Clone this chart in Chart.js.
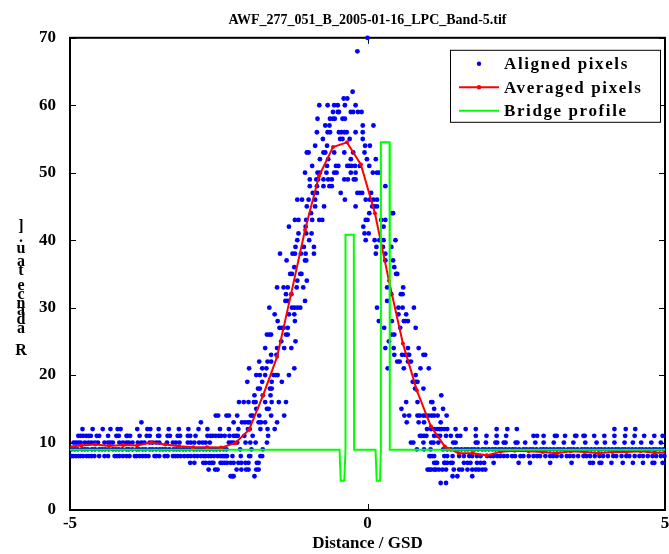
<!DOCTYPE html>
<html>
<head>
<meta charset="utf-8">
<script src="https://cdn.jsdelivr.net/npm/chart.js@4.4.0/dist/chart.umd.min.js"></script>
<style>
html, body { margin: 0; padding: 0; background: #fff; }
</style>
</head>
<body>
<canvas id="grafico" width="669" height="554"></canvas>
<script>
// Pixeles alineados, una lista de distancias por nivel de radiancia
const row4 = [1.23, 1.32];
const row5 = [-2.30, -2.27, -2.25, -1.90, 1.43, 1.51, 1.76];
const row6 = [-2.67, -2.56, -2.52, -2.20, -2.12, -2.04, -2.00, -1.87, -1.83,
    1.01, 1.04, 1.07, 1.12, 1.15, 1.20, 1.26, 1.32, 1.45, 1.54, 1.59, 1.68, 1.76, 1.82, 1.87, 1.93, 1.98];
const row7 = [-2.98, -2.91, -2.76, -2.72, -2.66, -2.62, -2.59, -2.47, -2.44, -2.40, -2.36, -2.30, -2.25, -2.17, -2.12, -2.05, -2.00, -1.86, -1.83,
    1.12, 1.15, 1.17, 1.29, 1.30, 1.34, 1.40, 1.43, 1.62, 1.68, 1.73, 1.84, 1.90, 1.96, 2.12, 2.54, 2.73, 3.07, 3.43, 3.74, 3.79, 3.90, 3.93, 4.10, 4.29, 4.46, 4.63, 4.79, 4.82, 4.96];
const row8 = [-4.97, -4.94, -4.90, -4.86, -4.82, -4.78, -4.72, -4.68, -4.64, -4.59, -4.51, -4.42, -4.36, -4.25, -4.21, -4.17, -4.11, -4.05, -4.00, -3.91,
    -3.88, -3.83, -3.78, -3.73, -3.68, -3.58, -3.55, -3.50, -3.41, -3.36, -3.27, -3.23, -3.19, -3.14, -3.08, -3.02, -2.97, -2.91, -2.86, -2.80,
    -2.75, -2.72, -2.67, -2.63, -2.58, -2.52, -2.47, -2.44, -2.41, -2.38, -2.36, -2.27, -2.13, -1.99, -1.97, -1.80, -1.77,
    1.04, 1.06, 1.09, 1.12, 1.29, 1.34, 1.43, 1.54, 1.62, 1.71, 1.76, 1.84, 1.90, 2.01, 2.07, 2.12, 2.18, 2.23, 2.29, 2.35, 2.43, 2.48, 2.57,
    2.62, 2.71, 2.79, 2.85, 2.90, 2.99, 3.07, 3.12, 3.18, 3.26, 3.35, 3.40, 3.46, 3.54, 3.63, 3.68, 3.74, 3.82, 3.90, 3.96, 4.04, 4.13, 4.18,
    4.27, 4.35, 4.40, 4.49, 4.57, 4.63, 4.71, 4.79, 4.85, 4.93, 4.99];
const row9 = [-4.97, -4.92, -4.87, -4.80, -4.75, -4.70, -4.63, -4.58, -4.51, -4.46, -4.41, -4.35, -4.28, -4.23, -4.18, -4.12, -4.05, -4.01, -3.95, -3.88,
    -3.84, -3.78, -3.73, -3.66, -3.61, -3.55, -3.49, -3.44, -3.39, -3.33, -3.26, -3.21, -3.16, -3.10, -3.05, -2.99, -2.92, -2.87, -2.82, -2.76,
    -2.71, -2.65, -2.59, -2.54, -2.48, -2.42, -2.37, -2.14, -1.95, -1.76,
    0.83, 0.95, 1.06, 1.27, 1.34, 1.40, 1.47, 1.52, 1.58, 1.64, 1.69, 1.75, 1.80, 1.86, 1.93, 1.98, 2.04, 2.10, 2.15, 2.21, 2.26, 2.32, 2.38,
    2.44, 2.49, 2.55, 2.62, 2.67, 2.73, 2.78, 2.84, 2.91, 2.96, 3.01, 3.07, 3.13, 3.19, 3.24, 3.30, 3.37, 3.42, 3.47, 3.53, 3.60, 3.65, 3.70,
    3.76, 3.82, 3.88, 3.93, 3.99, 4.05, 4.11, 4.17, 4.22, 4.28, 4.33, 4.39, 4.45, 4.51, 4.57, 4.62, 4.68, 4.74, 4.80, 4.85, 4.91, 4.97];
const row10 = [-4.94, -4.90, -4.86, -4.82, -4.75, -4.69, -4.64, -4.58, -4.53, -4.42, -4.36, -4.32, -4.28, -4.17, -4.11, -4.05, -4.01, -3.95, -3.86,
    -3.80, -3.75, -3.66, -3.61, -3.55, -3.50, -3.37, -3.27, -3.22, -3.16, -3.02, -2.97, -2.91, -2.83, -2.77, -2.72, -2.65, -2.33, -2.29, -2.25,
    -2.19, -2.05, -1.97, -1.88, -1.69,
    0.73, 0.77, 0.94, 1.07, 1.11, 1.19, 1.44, 1.48, 1.82, 1.85, 1.99, 2.15, 2.18, 2.29, 2.32, 2.49, 2.52, 2.65, 2.82, 2.96, 3.13, 3.30, 3.46,
    3.66, 3.85, 3.99, 4.15, 4.32, 4.46, 4.60, 4.77, 4.93];
const row11 = [-4.86, -4.82, -4.78, -4.73, -4.69, -4.65, -4.55, -4.51, -4.36, -4.22, -4.18, -4.05, -4.03, -3.99, -3.83, -3.71, -3.66, -3.52, -3.50,
    -3.36, -3.32, -3.19, -3.15, -3.02, -2.98, -2.89, -2.69, -2.64, -2.60, -2.55, -2.50, -2.46, -2.40, -2.32, -2.25, -2.21, -2.18, -2.07, -1.93, -1.67,
    0.88, 0.91, 0.95, 0.99, 1.12, 1.18, 1.22, 1.32, 1.40, 1.51, 1.56, 1.82, 2.00, 2.17, 2.33, 2.79, 2.85, 2.96, 3.15, 3.18, 3.32, 3.49, 3.51,
    3.63, 3.65, 3.81, 3.98, 4.15, 4.33, 4.49, 4.65, 4.82, 4.96];
const row12 = [-4.79, -4.62, -4.45, -4.32, -4.20, -4.15, -3.87, -3.70, -3.65, -3.51, -3.34, -3.17, -3.01, -2.84, -2.69, -2.48, -2.33, -2.17, -2.01,
    -1.98, -1.80, -1.68, -1.56,
    1.00, 1.07, 1.12, 1.17, 1.21, 1.24, 1.29, 1.34, 1.48, 1.65, 1.82, 2.17, 2.35, 2.51, 4.15, 4.34, 4.50];
const row13 = [-3.80, -2.80, -2.25, -2.11, -2.06, -2.01, -1.98, -1.83, -1.79, -1.72, -1.52, 0.66, 0.86, 0.95, 1.23];

// Niveles superiores (pico), cada lista va con su nivel
const upperLevels = [14, 15, 16, 17, 18, 19, 20, 21, 22, 23, 24, 25, 26, 27, 28, 29, 30, 31, 32, 33, 34, 35, 36, 37, 38, 39,
    40, 41, 42, 43, 44, 45, 46, 47, 48, 49, 50, 51, 52, 53, 54, 55, 56, 57, 58, 59, 60, 61, 62, 68, 70];
const upperX = [
    [-2.55, -2.51, -2.37, -2.33, -2.19, -1.96, -1.93, -1.82, -1.62, -1.40, 0.62, 0.70, 0.84, 0.88, 0.94, 0.98, 1.03, 1.08, 1.12, 1.18, 1.33],
    [-1.87, -1.69, -1.66, 0.57, 1.12, 1.27],
    [-2.16, -2.08, -2.00, -1.91, -1.88, -1.72, -1.61, -1.49, -1.37, 0.65, 0.84, 1.07, 1.09],
    [-1.90, -1.76, -1.63, 1.24],
    [-1.84, -1.81, -1.64, -1.61, 0.80, 0.94],
    [-2.02, -1.77, -1.61, -1.44, 0.76, 0.81, 0.84],
    [-1.87, -1.81, -1.72, -1.58, -1.54, -1.51, -1.32, 0.81],
    [-1.99, -1.77, -1.70, -1.23, 0.34, 0.61, 0.89, 1.03],
    [-1.82, -1.68, -1.62, 0.50, 0.54, 0.68, 0.73],
    [-1.62, -1.53, 0.45, 0.58, 0.63, 0.68, 0.70, 0.94, 0.97],
    [-1.72, -1.52, -1.40, -1.28, 0.30, 0.44, 0.68, 0.86],
    [-1.45, -1.21, 0.36],
    [-1.69, -1.65, -1.62, -1.37, -1.34, 0.41, 0.45],
    [-1.48, -1.44, -1.41, -1.34, 0.28, 0.55, 0.81],
    [-1.51, -1.22, 0.19, 0.41, 0.61, 0.64, 0.68],
    [-1.56, -1.32, -1.23, 0.52, 0.65],
    [-1.65, -1.27, -1.23, -1.18, -1.13, 0.16, 0.52, 0.59, 0.78],
    [-1.38, -1.34, -1.05, 0.33],
    [-1.37, -1.28, 0.40, 0.56, 0.59],
    [-1.52, -1.41, -1.34, -1.19, -1.08, 0.33, 0.60],
    [-1.18, -1.02],
    [-1.30, -1.27, -1.13, -1.11, 0.48, 0.50],
    [-1.23, 0.45],
    [-1.36, -1.05, -1.03, 0.30, 0.43],
    [-1.47, -1.26, -1.22, -1.12, -1.04, -0.90, 0.14, 0.30],
    [-1.21, -1.07, -0.90, 0.15, 0.26, 0.40],
    [-1.18, -0.98, -0.03, 0.12, 0.20, 0.27, 0.47],
    [-1.16, -1.03, -0.94, -0.05, 0.02],
    [-1.32, -1.04, -0.07, 0.27],
    [-1.22, -1.16, -1.03, -0.93, -0.81, -0.76, -0.03, 0.00, 0.23, 0.30],
    [-0.95, 0.03, 0.41, 0.43],
    [-1.02, -0.88, -0.73, -0.20, 0.08, 0.12, 0.16],
    [-1.18, -1.10, -0.99, -0.88, -0.38, -0.03, 0.04, 0.10, 0.16],
    [-0.92, -0.85, -0.45, -0.17, -0.13, -0.09, 0.06],
    [-0.97, -0.85, -0.74, -0.64, -0.60, 0.30],
    [-0.97, -0.86, -0.83, -0.74, -0.66, -0.60, -0.39, -0.33, -0.23, -0.20],
    [-1.05, -0.84, -0.80, -0.69, -0.56, -0.52, -0.28, -0.20, 0.09, 0.16, 0.20],
    [-0.93, -0.68, -0.53, -0.49, -0.34, -0.31, -0.27, -0.21, -0.13, 0.03],
    [-0.80, -0.66, -0.28, -0.01, 0.14],
    [-1.02, -0.99, -0.74, -0.71, -0.56, -0.39, -0.24, -0.05],
    [-0.88, -0.68, -0.04, 0.04],
    [-0.75, -0.46, -0.42, -0.30, -0.08],
    [-0.85, -0.67, -0.63, -0.48, -0.44, -0.39, -0.35, -0.20, -0.08],
    [-0.71, -0.64, -0.08, 0.10],
    [-0.84, -0.63, -0.58, -0.55, -0.42, -0.38],
    [-0.58, -0.50, -0.48, -0.28, -0.24, -0.16, -0.10],
    [-0.81, -0.67, -0.56, -0.50, -0.38, -0.20],
    [-0.40, -0.34],
    [-0.25],
    [-0.17],
    [0.00]
];

// Pixeles promediados
const avgX = [-5.045, -4.81, -4.575, -4.34, -4.105, -3.87, -3.635, -3.40, -3.165, -2.93, -2.695, -2.46, -2.225, -1.99, -1.755, -1.52, -1.285,
    -1.05, -0.815, -0.58, -0.345, -0.11, 0.125, 0.36, 0.595, 0.83, 1.065, 1.30, 1.535, 1.77, 2.005, 2.24, 2.475, 2.71, 2.945, 3.18, 3.415,
    3.65, 3.885, 4.12, 4.355, 4.59, 4.825, 5.06];
const avgY = [9.4, 9.55, 9.7, 9.5, 9.65, 9.55, 10.0, 9.7, 9.45, 9.3, 9.3, 9.25, 9.9, 11.9, 17.0, 22.7, 32.0,
    41.5, 49.5, 53.8, 54.5, 51.2, 44.0, 34.0, 24.7, 17.7, 12.4, 9.4, 8.4, 8.4, 8.1, 8.65, 8.8, 8.7, 8.6, 8.4, 8.7,
    8.6, 8.4, 8.6, 8.6, 8.7, 8.5, 8.5];

// Perfil del puente
const bridgeX = [-5, -0.47, -0.45, -0.39, -0.37, -0.37, -0.23, -0.225, 0.135, 0.155, 0.21, 0.225, 0.225, 0.37, 0.375, 5];
const bridgeY = [8.93, 8.93, 4.35, 4.35, 8.93, 40.8, 40.8, 8.93, 8.93, 4.35, 4.35, 8.93, 54.5, 54.5, 8.93, 8.93];

const rowLevels = [4, 5, 6, 7, 8, 9, 10, 11, 12, 13];
const rows = [row4, row5, row6, row7, row8, row9, row10, row11, row12, row13];

const alignedPts = [];
rows.forEach((xs, i) => xs.forEach(x => alignedPts.push({ x: x, y: rowLevels[i] })));
upperX.forEach((xs, i) => xs.forEach(x => alignedPts.push({ x: x, y: upperLevels[i] })));
const avgPts = avgX.map((x, i) => ({ x: x, y: avgY[i] }));
const bridgePts = bridgeX.map((x, i) => ({ x: x, y: bridgeY[i] }));

const fuente = "'Liberation Serif', 'Times New Roman', serif";

// Marco del eje con marcas hacia dentro (estilo MATLAB)
const marcoPlugin = {
    id: 'marco',
    beforeDatasetsDraw(chart) {
        const { ctx, chartArea: a, scales } = chart;
        ctx.save();
        ctx.strokeStyle = '#000';
        ctx.lineWidth = 1;
        ctx.beginPath();
        scales.y.ticks.forEach(t => {
            const y = Math.round(scales.y.getPixelForValue(t.value)) + 0.5;
            ctx.moveTo(a.left, y); ctx.lineTo(a.left + 6, y);
            ctx.moveTo(a.right, y); ctx.lineTo(a.right - 6, y);
        });
        scales.x.ticks.forEach(t => {
            const x = Math.round(scales.x.getPixelForValue(t.value)) + 0.5;
            ctx.moveTo(x, a.bottom); ctx.lineTo(x, a.bottom - 6);
            ctx.moveTo(x, a.top); ctx.lineTo(x, a.top + 6);
        });
        ctx.stroke();
        ctx.lineWidth = 2;
        ctx.strokeRect(a.left, a.top, a.right - a.left, a.bottom - a.top);
        ctx.restore();
    }
};

// Leyenda dentro del area, arriba a la derecha
const leyendaPlugin = {
    id: 'leyenda',
    afterDatasetsDraw(chart) {
        const { ctx, chartArea: a } = chart;
        const left = a.right - 215, top = a.top + 12, w = 210, h = 72;
        ctx.save();
        ctx.fillStyle = '#fff';
        ctx.fillRect(left, top, w, h);
        ctx.strokeStyle = '#000';
        ctx.lineWidth = 1;
        ctx.strokeRect(left + 0.5, top + 0.5, w, h);
        ctx.font = 'bold 17px ' + fuente;
        ctx.letterSpacing = '1.6px';
        ctx.textBaseline = 'middle';
        chart.data.datasets.forEach((ds, i) => {
            const y = top + 14 + i * 23.5;
            const x0 = left + 9, x1 = left + 49;
            if (ds.showLine) {
                ctx.strokeStyle = ds.borderColor;
                ctx.lineWidth = 2;
                ctx.beginPath();
                ctx.moveTo(x0, y); ctx.lineTo(x1, y);
                ctx.stroke();
            }
            if (ds.pointRadius > 0) {
                ctx.fillStyle = ds.backgroundColor;
                ctx.beginPath();
                ctx.arc((x0 + x1) / 2, y, 2.2, 0, Math.PI * 2);
                ctx.fill();
            }
            ctx.fillStyle = '#000';
            ctx.fillText(ds.label, left + 54, y + 1);
        });
        ctx.restore();
    }
};

// Etiqueta del eje Y, letras apiladas como en la figura original
const etiquetaY = [[']', 227], ['.', 238], ['u', 249], ['a', 262], ['t', 271], ['e', 286], ['c', 295], ['n', 304],
    ['a', 311], ['d', 320], ['a', 329], ['R', 351]];
const ejeYPlugin = {
    id: 'ejeY',
    afterDraw(chart) {
        const ctx = chart.ctx;
        ctx.save();
        ctx.font = 'bold 16px ' + fuente;
        ctx.fillStyle = '#000';
        ctx.textAlign = 'center';
        ctx.textBaseline = 'middle';
        etiquetaY.forEach(([c, y]) => ctx.fillText(c, 21, y));
        ctx.restore();
    }
};

const ctx = document.getElementById('grafico').getContext('2d');
new Chart(ctx, {
    type: 'scatter',
    data: {
        datasets: [
            {
                label: 'Aligned pixels',
                data: alignedPts,
                backgroundColor: '#0000ff',
                borderColor: '#0000ff',
                pointRadius: 2.4,
                pointBorderWidth: 0,
                showLine: false,
                clip: false,
                order: 3
            },
            {
                label: 'Averaged pixels',
                data: avgPts,
                borderColor: '#ff0000',
                backgroundColor: '#ff0000',
                borderWidth: 2,
                pointRadius: 2,
                pointBorderWidth: 0,
                showLine: true,
                tension: 0,
                order: 2
            },
            {
                label: 'Bridge profile',
                data: bridgePts,
                borderColor: '#00ff00',
                backgroundColor: '#00ff00',
                borderWidth: 2,
                pointRadius: 0,
                showLine: true,
                tension: 0,
                order: 1
            }
        ]
    },
    options: {
        responsive: false,
        animation: false,
        devicePixelRatio: 1,
        layout: { padding: { left: 0, right: 1, top: 0, bottom: 0 } },
        plugins: {
            legend: { display: false },
            tooltip: { enabled: false },
            title: {
                display: true,
                fullSize: false,
                text: 'AWF_277_051_B_2005-01-16_LPC_Band-5.tif',
                color: '#000',
                font: { family: fuente, size: 14, weight: 'bold' },
                padding: { top: 12, bottom: 9 }
            }
        },
        scales: {
            x: {
                type: 'linear',
                min: -5,
                max: 5,
                grid: { display: false, drawTicks: false },
                border: { display: false },
                ticks: {
                    stepSize: 5,
                    color: '#000',
                    padding: 3,
                    font: { family: fuente, size: 17, weight: 'bold' }
                },
                title: {
                    display: true,
                    text: 'Distance / GSD',
                    color: '#000',
                    font: { family: fuente, size: 17, weight: 'bold' },
                    padding: { top: 0, bottom: 0 }
                },
                afterFit(scale) {
                    scale.height = 44;
                    scale.paddingLeft = 0;
                    scale.paddingRight = 0;
                }
            },
            y: {
                min: 0,
                max: 70,
                grid: { display: false, drawTicks: false },
                border: { display: false },
                ticks: {
                    stepSize: 10,
                    color: '#000',
                    padding: 14,
                    font: { family: fuente, size: 17, weight: 'bold' }
                },
                afterFit(scale) {
                    scale.width = 70;
                    scale.paddingTop = 0;
                    scale.paddingBottom = 0;
                }
            }
        }
    },
    plugins: [marcoPlugin, leyendaPlugin, ejeYPlugin]
});
</script>
</body>
</html>
